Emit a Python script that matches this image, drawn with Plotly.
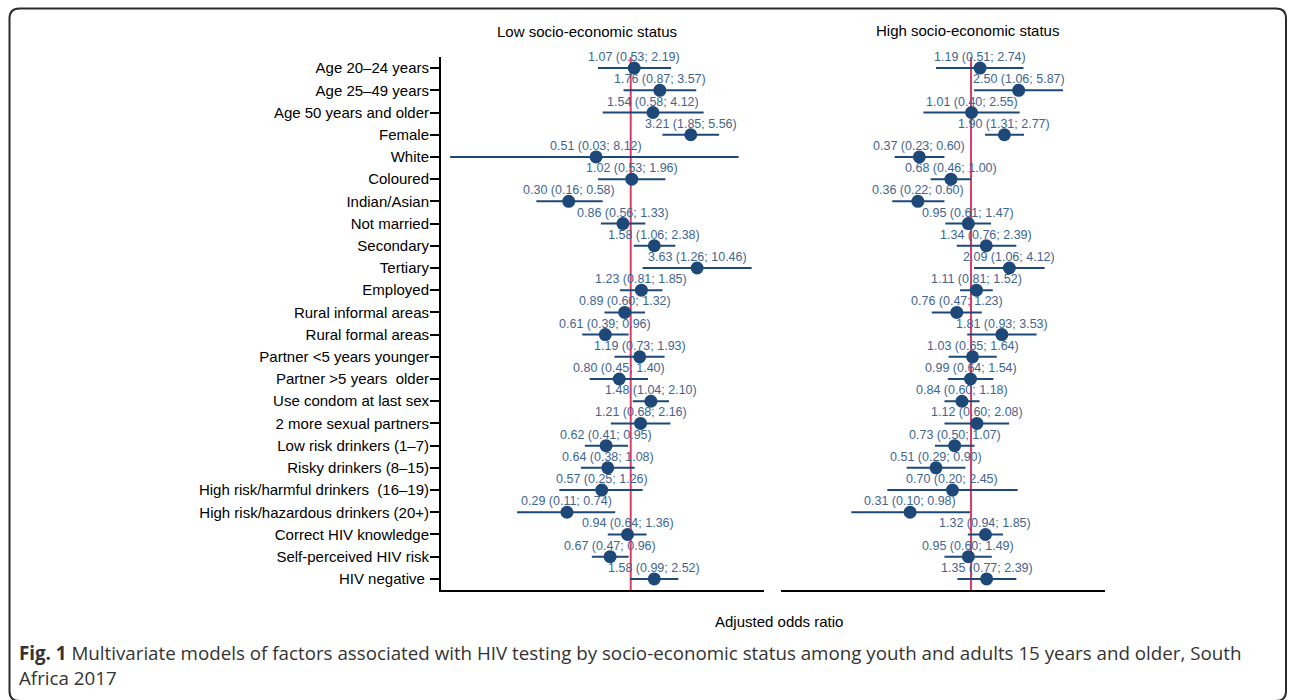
import numpy as np
import plotly.graph_objects as go

W, H = 1292, 700

categories = [
    "Age 20–24 years", "Age 25–49 years", "Age 50 years and older", "Female",
    "White", "Coloured", "Indian/Asian", "Not married", "Secondary", "Tertiary",
    "Employed", "Rural informal areas", "Rural formal areas",
    "Partner <5 years younger", "Partner >5 years  older", "Use condom at last sex",
    "2 more sexual partners", "Low risk drinkers (1–7)", "Risky drinkers (8–15)",
    "High risk/harmful drinkers  (16–19)", "High risk/hazardous drinkers (20+)",
    "Correct HIV knowledge", "Self-perceived HIV risk", "HIV negative ",
]

low_or = [1.07, 1.76, 1.54, 3.21, 0.51, 1.02, 0.30, 0.86, 1.58, 3.63, 1.23, 0.89,
          0.61, 1.19, 0.80, 1.48, 1.21, 0.62, 0.64, 0.57, 0.29, 0.94, 0.67, 1.58]
low_lo = [0.53, 0.87, 0.58, 1.85, 0.03, 0.53, 0.16, 0.56, 1.06, 1.26, 0.81, 0.60,
          0.39, 0.73, 0.45, 1.04, 0.68, 0.41, 0.38, 0.25, 0.11, 0.64, 0.47, 0.99]
low_hi = [2.19, 3.57, 4.12, 5.56, 8.12, 1.96, 0.58, 1.33, 2.38, 10.46, 1.85, 1.32,
          0.96, 1.93, 1.40, 2.10, 2.16, 0.95, 1.08, 1.26, 0.74, 1.36, 0.96, 2.52]

high_or = [1.19, 2.50, 1.01, 1.90, 0.37, 0.68, 0.36, 0.95, 1.34, 2.09, 1.11, 0.76,
           1.81, 1.03, 0.99, 0.84, 1.12, 0.73, 0.51, 0.70, 0.31, 1.32, 0.95, 1.35]
high_lo = [0.51, 1.06, 0.40, 1.31, 0.23, 0.46, 0.22, 0.61, 0.76, 1.06, 0.81, 0.47,
           0.93, 0.65, 0.64, 0.60, 0.60, 0.50, 0.29, 0.20, 0.10, 0.94, 0.60, 0.77]
high_hi = [2.74, 5.87, 2.55, 2.77, 0.60, 1.00, 0.60, 1.47, 2.39, 4.12, 1.52, 1.23,
           3.53, 1.64, 1.54, 1.18, 2.08, 1.07, 0.90, 2.45, 0.98, 1.85, 1.49, 2.39]

reference_or = 1.0

panel_titles = ["Low socio-economic status", "High socio-economic status"]
x_title = "Adjusted odds ratio"
caption1 = ("<b>Fig. 1</b> Multivariate models of factors associated with HIV testing by "
            "socio-economic status among youth and adults 15 years and older, South")
caption2 = "Africa 2017"

NAVY = "#1d4877"
TXT = "#3f6590"
RED = "#dc3d68"
FONT = "Liberation Sans, Arial, sans-serif"


def px_x(x):
    return x / W


def px_y(y):
    return 1 - y / H


fig = go.Figure()

panels = [
    (low_or, low_lo, low_hi, "x", "y"),
    (high_or, high_lo, high_hi, "x2", "y2"),
]

annotations = []
shapes = []
for orv, lo, hi, xa, ya in panels:
    # reference line at OR = 1 (drawn below the data)
    shapes.append(dict(type="line", xref=xa, yref=f"{ya} domain",
                       x0=reference_or, x1=reference_or, y0=0, y1=1,
                       line=dict(color=RED, width=2), layer="below"))
    # CI lines
    xs, ys = [], []
    for c, l, h in zip(categories, lo, hi):
        xs += [l, h, None]
        ys += [c, c, None]
    fig.add_trace(go.Scatter(x=xs, y=ys, mode="lines", xaxis=xa, yaxis=ya,
                             line=dict(color=NAVY, width=2), hoverinfo="skip",
                             showlegend=False))
    fig.add_trace(go.Scatter(x=orv, y=categories, mode="markers", xaxis=xa, yaxis=ya,
                             marker=dict(color=NAVY, size=13), showlegend=False))
    for c, o, l, h in zip(categories, orv, lo, hi):
        annotations.append(dict(
            x=np.log10(o), y=c, xref=xa, yref=ya,
            text=f"{o:.2f} ({l:.2f}; {h:.2f})", showarrow=False,
            xanchor="center", yanchor="middle", yshift=11,
            font=dict(family=FONT, size=12.5, color=TXT)))

yaxis_common = dict(type="category", categoryorder="array", categoryarray=categories,
                    range=[23.5, -0.5], domain=[px_y(590), px_y(57)], showgrid=False,
                    zeroline=False, fixedrange=True)

fig.update_layout(
    width=W, height=H, margin=dict(l=0, r=0, t=0, b=0),
    paper_bgcolor="white", plot_bgcolor="white",
    showlegend=False,
    font=dict(family=FONT, color="black"),
    xaxis=dict(type="log", domain=[px_x(441), px_x(764)], range=[-1.600, 1.124],
               showline=True, linecolor="black", linewidth=2, showticklabels=False,
               ticks="", showgrid=False, zeroline=False, anchor="y"),
    xaxis2=dict(type="log", domain=[px_x(781), px_x(1105)], range=[-1.587, 1.119],
                showline=True, linecolor="black", linewidth=2, showticklabels=False,
                ticks="", showgrid=False, zeroline=False, anchor="y2"),
    yaxis=dict(**yaxis_common, showline=True, linecolor="black", linewidth=2,
               ticks="outside", ticklen=9, tickwidth=1.5, tickcolor="black",
               ticklabelstandoff=-2,
               tickfont=dict(family=FONT, size=15, color="black"), anchor="x"),
    yaxis2=dict(**yaxis_common, showline=False, showticklabels=False, ticks="",
                anchor="x2"),
)

# outer rounded frame
L, T, R, B, r = 9.5, 8.5, 1286, 701, 10
pts = (f"M {px_x(L + r)},{px_y(T)} L {px_x(R - r)},{px_y(T)} "
       f"Q {px_x(R)},{px_y(T)} {px_x(R)},{px_y(T + r)} "
       f"L {px_x(R)},{px_y(B - r)} Q {px_x(R)},{px_y(B)} {px_x(R - r)},{px_y(B)} "
       f"L {px_x(L + r)},{px_y(B)} Q {px_x(L)},{px_y(B)} {px_x(L)},{px_y(B - r)} "
       f"L {px_x(L)},{px_y(T + r)} Q {px_x(L)},{px_y(T)} {px_x(L + r)},{px_y(T)} Z")
shapes.append(dict(type="path", xref="paper", yref="paper", path=pts,
                   line=dict(color="#2a2a2a", width=2), fillcolor="rgba(0,0,0,0)"))

annotations += [
    dict(text=panel_titles[0], x=px_x(587), y=px_y(32), xref="paper", yref="paper",
         showarrow=False, xanchor="center", yanchor="middle",
         font=dict(family=FONT, size=15, color="black")),
    dict(text=panel_titles[1], x=px_x(967), y=px_y(31), xref="paper", yref="paper",
         showarrow=False, xanchor="center", yanchor="middle",
         font=dict(family=FONT, size=15, color="black")),
    dict(text=x_title, x=px_x(779), y=px_y(621), xref="paper", yref="paper",
         showarrow=False, xanchor="center", yanchor="middle",
         font=dict(family=FONT, size=15, color="black")),
    dict(text=caption1, x=px_x(17), y=px_y(652), xref="paper", yref="paper",
         showarrow=False, xanchor="left", yanchor="middle",
         font=dict(family="Open Sans, sans-serif", size=18.75, color="#333333")),
    dict(text=caption2, x=px_x(17), y=px_y(677), xref="paper", yref="paper",
         showarrow=False, xanchor="left", yanchor="middle",
         font=dict(family="Open Sans, sans-serif", size=18.75, color="#333333")),
]

fig.update_layout(shapes=shapes, annotations=annotations)
fig.write_html("out.html", config={"displayModeBar": False},
               post_script="document.body.style.margin='0';")
